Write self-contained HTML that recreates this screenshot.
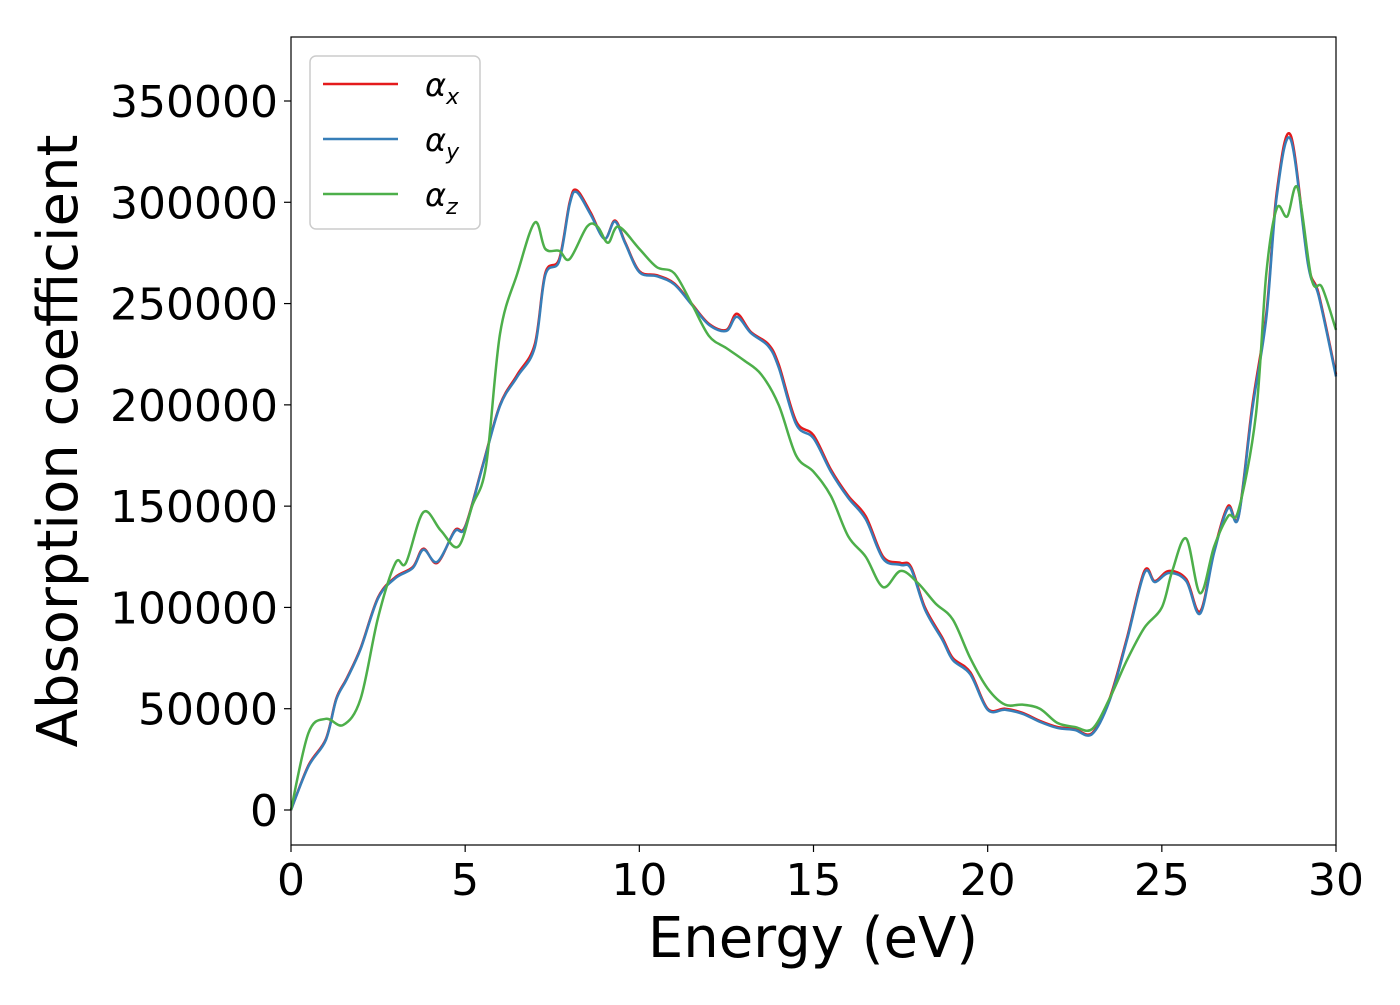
<!DOCTYPE html>
<html><head><meta charset="utf-8"><style>
body{margin:0;background:#fff;}
svg text{font-family:"DejaVu Sans","Liberation Sans",sans-serif;}
</style></head><body>
<svg id="chart" width="1400" height="1000" xmlns="http://www.w3.org/2000/svg">
<rect x="0" y="0" width="1400" height="1000" fill="#fff"/>
<g id="grid"></g>
<g id="series"></g>
<rect x="291" y="37" width="1045" height="808" fill="none" stroke="#000" stroke-width="1.2"/>
<g id="axes"></g>
<text x="813" y="957" font-size="56" text-anchor="middle">Energy (eV)</text>
<text transform="translate(77,441) rotate(-90)" font-size="56" text-anchor="middle">Absorption coefficient</text>
<g>
<rect x="310" y="56" width="170" height="173" rx="6" fill="#fff" stroke="#ccc" stroke-width="1.5"/>
<line x1="323" y1="84" x2="398" y2="84" stroke="#e41a1c" stroke-width="2.5"/>
<text x="425" y="96" font-size="32" font-style="italic">α<tspan font-size="22" dy="8">x</tspan></text>
<line x1="323" y1="139" x2="398" y2="139" stroke="#377eb8" stroke-width="2.5"/>
<text x="425" y="151" font-size="32" font-style="italic">α<tspan font-size="22" dy="8">y</tspan></text>
<line x1="323" y1="194" x2="398" y2="194" stroke="#4daf4a" stroke-width="2.5"/>
<text x="425" y="206" font-size="32" font-style="italic">α<tspan font-size="22" dy="8">z</tspan></text>
</g>
</svg>
<script>
const xTicks=[0,5,10,15,20,25,30];
const yTicks=[0,50000,100000,150000,200000,250000,300000,350000];
const energyXY=[0,0.5,1,1.3,1.6,2,2.5,3,3.5,3.8,4.2,4.7,5,5.5,6,6.5,7,7.3,7.7,8,8.2,8.6,9,9.3,9.6,10,10.5,11,11.5,12,12.5,12.8,13.2,13.7,14,14.5,15,15.5,16,16.5,17,17.5,17.8,18.2,18.7,19,19.5,20,20.5,21,21.5,22,22.5,23,23.5,24,24.5,24.8,25.2,25.7,26.1,26.5,26.9,27.2,27.6,28,28.3,28.7,29.2,29.5,30];
const alphaX=[0,22000,35000,55000,65000,80000,105000,115000,120000,129000,122000,138000,140000,170000,200000,215000,230000,265000,272000,300000,306000,295000,282000,291000,280000,266000,264000,260000,250000,240000,237000,245000,236000,230000,220000,192000,185000,168000,155000,145000,125000,122000,120000,100000,85000,75000,68000,50000,50000,48000,44000,41000,40000,38000,55000,85000,118000,113000,118000,114000,98000,128000,150000,145000,200000,245000,305000,333000,270000,255000,215000];
const alphaY=[0,21500,34500,54500,64500,79500,104500,114500,119500,128500,122500,137500,139500,169500,199500,214000,228500,264000,271000,299000,305000,294000,282000,290500,279500,265500,263500,259500,249500,239500,236500,243500,235500,229000,218500,190500,183500,167000,154000,143500,124000,121000,119000,99000,84000,74000,67000,49500,49500,47500,43500,40500,39500,37500,54000,84000,117000,112500,117000,113000,97000,127000,149000,144500,198000,243000,303000,331000,269000,254000,214000];
const energyZ=[0,0.5,1,1.5,2,2.5,3,3.3,3.8,4.3,4.8,5.2,5.6,6,6.5,7,7.3,7.7,8,8.5,8.8,9.1,9.4,10,10.5,11,11.5,12,12.5,13,13.5,14,14.5,15,15.5,16,16.5,17,17.5,18,18.5,19,19.5,20,20.5,21,21.5,22,22.5,23,23.5,24,24.5,25,25.3,25.7,26.1,26.5,26.9,27.2,27.7,28,28.3,28.6,28.9,29.3,29.6,30];
const alphaZ=[0,38000,45000,42000,55000,95000,122000,122000,147000,138000,130000,150000,170000,235000,265000,290000,277000,276000,272000,288000,288000,280000,288000,277000,268000,265000,250000,234000,228000,222000,215000,200000,175000,167000,155000,135000,125000,110000,118000,112000,102000,94000,75000,60000,52000,52000,50000,43000,41000,40000,55000,74000,90000,100000,118000,134000,107000,130000,145000,148000,195000,265000,297000,293000,307000,262000,258000,237000];
const X=e=>291+e*(1045/30);
const Y=v=>810-v*(709/350000);
const NS="http://www.w3.org/2000/svg";
const axes=document.getElementById('axes');
function mk(t,a,p){const el=document.createElementNS(NS,t);for(const k in a)el.setAttribute(k,a[k]);p.appendChild(el);return el;}
xTicks.forEach(t=>{
  const l=mk('line',{x1:X(t),x2:X(t),y1:845,y2:852,stroke:'#000','stroke-width':1.2},axes);
  
  
  const tx=mk('text',{x:X(t),y:895,'font-size':44,'text-anchor':'middle'},axes);
  tx.textContent=t;
  
  
});
yTicks.forEach(t=>{
  const l=mk('line',{x1:284,x2:291,y1:Y(t),y2:Y(t),stroke:'#000','stroke-width':1.2},axes);
  
  
  const tx=mk('text',{x:278,y:Y(t)+16,'font-size':44,'text-anchor':'end'},axes);
  tx.textContent=t;
  
  
});
function smooth(xs,vs){
  const p=xs.map((e,i)=>[X(e),Y(vs[i])]);
  let d='M'+p[0][0]+','+p[0][1];
  for(let i=0;i<p.length-1;i++){
    const p0=p[i-1]||p[i],p1=p[i],p2=p[i+1],p3=p[i+2]||p2;
    const c1=[p1[0]+(p2[0]-p0[0])/6,p1[1]+(p2[1]-p0[1])/6];
    const c2=[p2[0]-(p3[0]-p1[0])/6,p2[1]-(p3[1]-p1[1])/6];
    d+=`C${c1[0]},${c1[1]} ${c2[0]},${c2[1]} ${p2[0]},${p2[1]}`;
  }
  return d;
}
const sg=document.getElementById('series');
[[energyXY,alphaX,'#e41a1c','series-alpha-x'],[energyXY,alphaY,'#377eb8','series-alpha-y'],[energyZ,alphaZ,'#4daf4a','series-alpha-z']].forEach(s=>{
  const p=mk('path',{d:smooth(s[0],s[1]),fill:'none',stroke:s[2],'stroke-width':2.5},sg);
  
  
});
</script>
</body></html>
